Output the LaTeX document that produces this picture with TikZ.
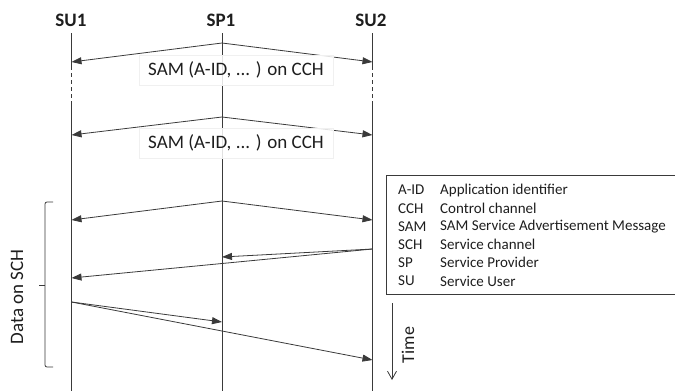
\documentclass[tikz,border=0pt]{standalone}
\usepackage{fontspec}
\setmainfont{Carlito}
\usetikzlibrary{arrows.meta}
\definecolor{linegray}{HTML}{3A3A3A}
\definecolor{textgray}{HTML}{1E1E1E}
\begin{document}
\begin{tikzpicture}[x=1pt,y=-1pt,
  line/.style={draw=linegray, line width=0.8pt},
  msg/.style={line, -{Triangle[length=10pt,width=7pt]}},
  head/.style={font=\fontsize{19}{22}\selectfont\bfseries, text=textgray, inner sep=0pt},
  lbl/.style={font=\fontsize{19}{22}\selectfont, text=textgray, fill=white, fill opacity=0.85,
              text opacity=1, draw=gray!12, inner xsep=4pt, inner ysep=3pt,
              minimum width=194pt, minimum height=30pt},
  legtxt/.style={font=\fontsize{15}{18}\selectfont, text=textgray, anchor=west, inner sep=0pt},
  sidetxt/.style={font=\fontsize{19}{22}\selectfont, text=textgray, rotate=90, inner sep=0pt}
]
\useasboundingbox (0,0) rectangle (675,391);

% lifeline headers
\node[head] (su1) at (71,20) {SU1};
\node[head] (sp1) at (221,20) {SP1};
\node[head] (su2) at (371,20) {SU2};

% lifelines (user lines are interrupted by a dashed gap)
\coordinate (su1t) at (71.5,33);  \coordinate (su1a) at (71.5,66);
\coordinate (su1b) at (71.5,105); \coordinate (su1e) at (71.5,391);
\coordinate (sp1t) at (222,33);   \coordinate (sp1e) at (222,391);
\coordinate (su2t) at (372.5,33); \coordinate (su2a) at (372.5,66);
\coordinate (su2b) at (372.5,105);\coordinate (su2e) at (372.5,391);
\draw[line] (su1t) -- (su1a);
\draw[line, dash pattern=on 4pt off 3pt] (su1a) -- (su1b);
\draw[line] (su1b) -- (su1e);
\draw[line] (sp1t) -- (sp1e);
\draw[line] (su2t) -- (su2a);
\draw[line, dash pattern=on 4pt off 3pt] (su2a) -- (su2b);
\draw[line] (su2b) -- (su2e);

% first SAM broadcast
\coordinate (p1) at (222,43);
\coordinate (l1) at (71.5,62); \coordinate (r1) at (372.5,62);
\draw[msg] (p1) -- (l1);
\draw[msg] (p1) -- (r1);
\node[lbl] (sam1) at (236,70) {SAM (A-ID, ... ) on CCH};

% second SAM broadcast
\coordinate (p2) at (222,117);
\coordinate (l2) at (71.5,135); \coordinate (r2) at (372.5,135);
\draw[msg] (p2) -- (l2);
\draw[msg] (p2) -- (r2);
\node[lbl] (sam2) at (236,143) {SAM (A-ID, ... ) on CCH};

% data exchange on the service channel
\coordinate (p3) at (222,201);
\coordinate (l3) at (71.5,220); \coordinate (r3) at (372.5,220);
\draw[msg] (p3) -- (l3);
\draw[msg] (p3) -- (r3);

\coordinate (r4) at (372.5,249);
\coordinate (m4) at (222,257); \coordinate (l4) at (71.5,278);
\draw[msg] (r4) -- (m4);
\draw[msg] (r4) -- (l4);

\coordinate (l5) at (71.5,302);
\coordinate (m5) at (222,322); \coordinate (r5) at (372.5,360);
\draw[msg] (l5) -- (m5);
\draw[msg] (l5) -- (r5);

% brace grouping the data phase
\coordinate (bt) at (53,202); \coordinate (bb) at (53,367);
\coordinate (bm) at (45,285); \coordinate (bk) at (39,285);
\draw[line, rounded corners=2pt] (bt) -- (45,202) -- (45,367) -- (bb);
\draw[line] (bm) -- (bk);
\node[sidetxt] (data) at (17,297) {Data on SCH};

% legend of abbreviations
\node[draw=linegray, line width=0.8pt, minimum width=291pt, minimum height=119pt,
      anchor=north west, inner sep=0pt] (legend) at (386,175) {};
\foreach \k/\ab/\txt in {0/A-ID/Application identifier,
                          1/CCH/Control channel,
                          2/SAM/SAM Service Advertisement Message,
                          3/SCH/Service channel,
                          4/SP/Service Provider,
                          5/SU/Service User}{
  \node[legtxt] (ab\k) at (398,190+18.2*\k) {\ab};
  \node[legtxt] (tx\k) at (440,190+18.2*\k) {\txt};
}

% time axis
\coordinate (tt) at (392,303); \coordinate (tb) at (392,380);
\draw[line, -{Straight Barb[length=8pt,width=9pt]}] (tt) -- (tb);
\node[sidetxt, font=\fontsize{18}{21}\selectfont] (time) at (408,345) {Time};
\end{tikzpicture}
\end{document}
